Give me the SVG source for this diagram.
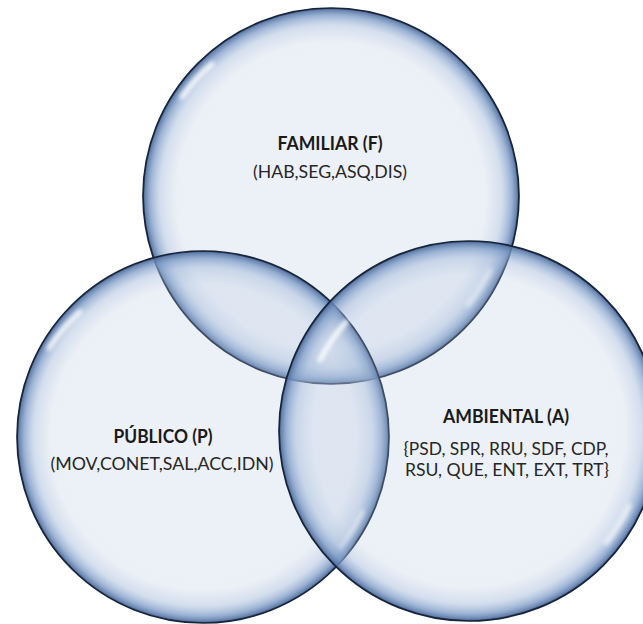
<svg xmlns="http://www.w3.org/2000/svg" width="643" height="624" viewBox="0 0 643 624">
<style>
.bub{fill:url(#glass);stroke:#17243a;stroke-width:1.7}
.hl{fill:none;stroke:#ffffff;stroke-linecap:round;filter:url(#blur)}
.t{font-family:Lato,"Open Sans","Liberation Sans",sans-serif;fill:#1a1a1a;text-anchor:middle}
.h{font-weight:bold;font-size:18px}
.s{font-size:17px;fill:#262626}
</style>
<defs>
<radialGradient id="glass" cx="50%" cy="50%" r="50%">
<stop offset="0" stop-color="#b4c6df" stop-opacity="0.24"/>
<stop offset="0.82" stop-color="#b4c6df" stop-opacity="0.26"/>
<stop offset="0.91" stop-color="#a3b9da" stop-opacity="0.48"/>
<stop offset="0.96" stop-color="#7f9dc8" stop-opacity="0.76"/>
<stop offset="0.99" stop-color="#5877a6" stop-opacity="0.92"/>
<stop offset="1" stop-color="#2e4668" stop-opacity="1"/>
</radialGradient>
<filter id="blur" x="-20%" y="-20%" width="140%" height="140%"><feGaussianBlur stdDeviation="2"/></filter>
</defs>
<g id="familiar">
<circle class="bub" cx="331" cy="196" r="188"/>
<path class="hl" d="M 182 97 A 178 178 0 0 1 212 64" stroke-width="5" opacity="0.9"/>
<path class="hl" d="M 490 270 A 176 176 0 0 1 468 305" stroke-width="5" opacity="0.7"/>
<text class="t h" x="330" y="150" textLength="105" lengthAdjust="spacingAndGlyphs">FAMILIAR (F)</text>
<text class="t s" x="330" y="178" textLength="154" lengthAdjust="spacingAndGlyphs">(HAB,SEG,ASQ,DIS)</text>
</g>
<g id="publico">
<circle class="bub" cx="203" cy="437" r="186"/>
<path class="hl" d="M 49 348 A 176 176 0 0 1 80 312" stroke-width="5" opacity="0.9"/>
<path class="hl" d="M 362 512 A 176 176 0 0 1 340 547" stroke-width="5" opacity="0.7"/>
<text class="t h" x="163" y="443" textLength="99" lengthAdjust="spacingAndGlyphs">PÚBLICO (P)</text>
<text class="t s" x="162" y="470" textLength="223" lengthAdjust="spacingAndGlyphs">(MOV,CONET,SAL,ACC,IDN)</text>
</g>
<g id="ambiental">
<circle class="bub" cx="469" cy="431" r="190"/>
<path class="hl" d="M 320 360 A 178 178 0 0 1 346 322" stroke-width="5" opacity="0.9"/>
<path class="hl" d="M 629 506 A 178 178 0 0 1 606 543" stroke-width="5" opacity="0.7"/>
<text class="t h" x="506" y="423" textLength="126" lengthAdjust="spacingAndGlyphs">AMBIENTAL (A)</text>
<text class="t s" x="506" y="455" textLength="205" lengthAdjust="spacingAndGlyphs">{PSD, SPR, RRU, SDF, CDP,</text>
<text class="t s" x="507" y="476" textLength="204" lengthAdjust="spacingAndGlyphs">RSU, QUE, ENT, EXT, TRT}</text>
</g>
<g id="connectors"></g>
</svg>
